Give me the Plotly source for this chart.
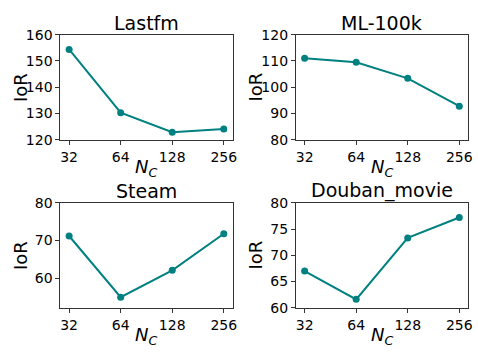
import plotly.graph_objects as go
import math

n_c = [32, 64, 128, 256]
tick_labels = ["32", "64", "128", "256"]

titles = ["Lastfm", "ML-100k", "Steam", "Douban_movie"]
lastfm = [154.4, 130.3, 122.9, 124.1]
ml100k = [111.0, 109.5, 103.4, 92.8]
steam = [71.2, 55.0, 62.1, 71.8]
douban = [67.0, 61.6, 73.3, 77.2]
series = [lastfm, ml100k, steam, douban]

y_ranges = [[120, 160], [80, 120], [52.2, 80], [60, 80]]
y_dticks = [10, 10, 10, 5]

W, H = 478, 353
# plot-area pixel boxes (left, right, top, bottom)
boxes = [(61, 235, 28, 138), (299, 473, 28, 138), (61, 235, 204, 314), (299, 473, 204, 314)]

color = "#008080"
font_family = "DejaVu Sans"
axis_col = "#333333"

fig = go.Figure()
lo, hi = math.log10(32), math.log10(256)
unit = (hi - lo) / 3
xr = [lo - 0.17 * unit, hi + 0.17 * unit]

for i in range(4):
    sfx = "" if i == 0 else str(i + 1)
    fig.add_trace(go.Scatter(
        x=n_c, y=series[i], mode="lines+markers",
        line=dict(color=color, width=2),
        marker=dict(color=color, size=7),
        xaxis="x" + sfx, yaxis="y" + sfx, showlegend=False,
    ))
    l, r, t, b = boxes[i]
    xd = [l / W, r / W]
    yd = [1 - b / H, 1 - t / H]
    common = dict(showline=True, mirror=True, linecolor=axis_col, linewidth=1,
                  ticks="outside", ticklen=4, tickcolor=axis_col, showgrid=False,
                  zeroline=False, tickfont=dict(family=font_family, size=14, color="black"))
    fig.layout["xaxis" + sfx] = dict(domain=xd, anchor="y" + sfx, type="log", range=xr,
                                    tickvals=n_c, ticktext=tick_labels, **common)
    fig.layout["yaxis" + sfx] = dict(domain=yd, anchor="x" + sfx, range=y_ranges[i],
                                    dtick=y_dticks[i], tick0=0, **common)
    cx = (l + r) / 2 / W
    # title
    fig.add_annotation(x=cx, y=1 - (t + 1) / H, xref="paper", yref="paper", text=titles[i],
                       showarrow=False, xanchor="center", yanchor="bottom",
                       font=dict(family=font_family, size=19, color="black"))
    # x label
    fig.add_annotation(x=cx, y=1 - (b + 30) / H, xref="paper", yref="paper",
                       text="<i>N</i><sub><i>C</i></sub>",
                       showarrow=False, xanchor="center", yanchor="middle",
                       font=dict(family=font_family, size=18, color="black"))
    # y label
    fig.add_annotation(x=(l - 41) / W, y=1 - (t + b) / 2 / H, xref="paper", yref="paper",
                       text="IoR", textangle=-90,
                       showarrow=False, xanchor="center", yanchor="middle",
                       font=dict(family=font_family, size=18, color="black"))

fig.update_layout(width=W, height=H, margin=dict(l=0, r=0, t=0, b=0),
                  paper_bgcolor="white", plot_bgcolor="white")
fig.write_html("out.html")
